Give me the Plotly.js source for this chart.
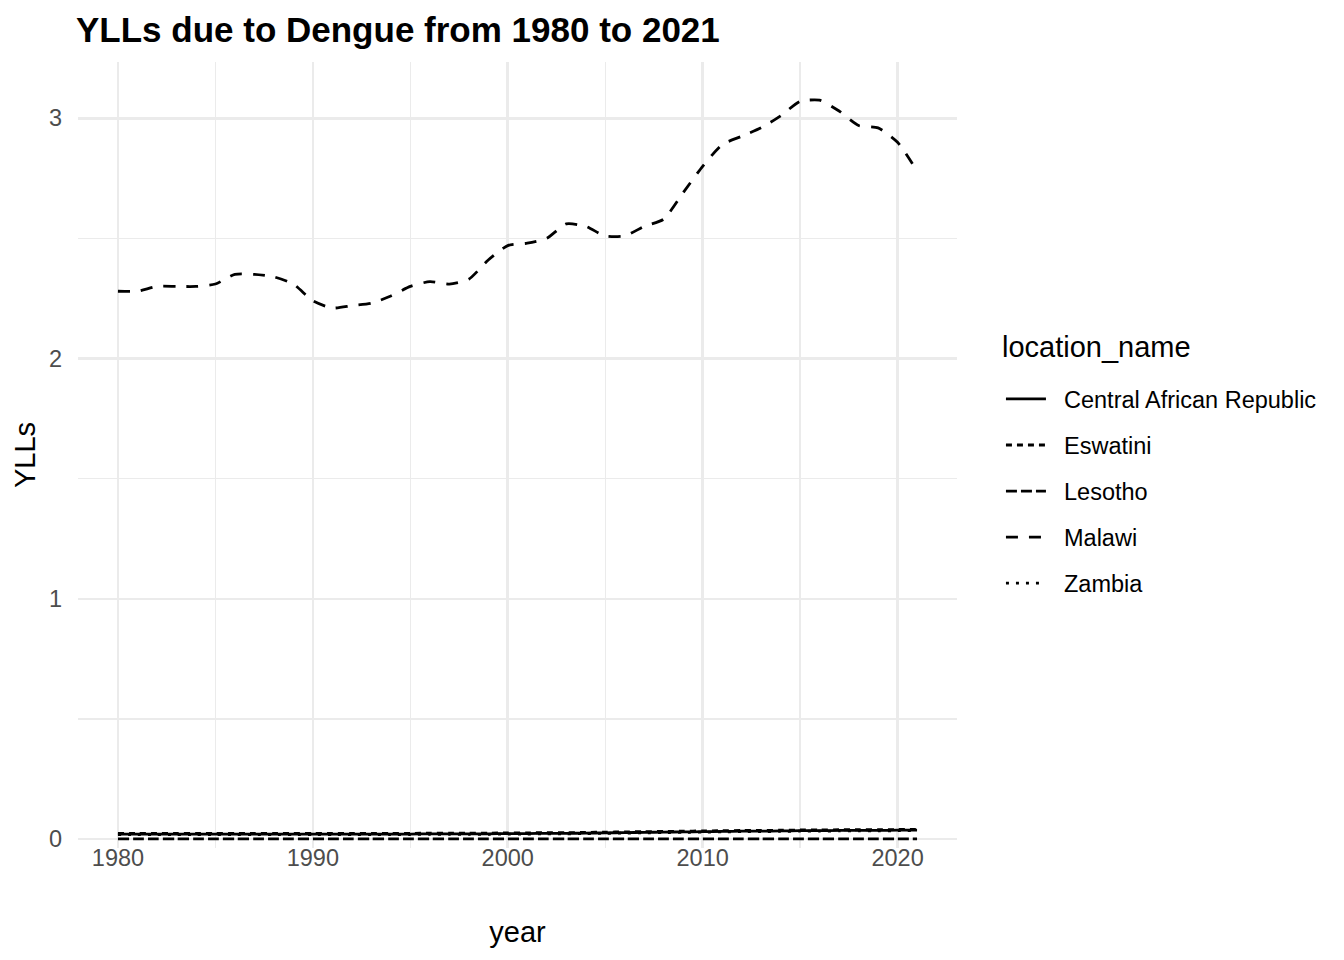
<!DOCTYPE html>
<html>
<head>
<meta charset="utf-8">
<script src="https://cdn.plot.ly/plotly-3.0.1.min.js"></script>
<style>html,body{margin:0;padding:0;background:#fff;}#chart{width:1344px;height:960px;}</style>
</head>
<body>
<div id="chart"></div>
<script>
const years = [1980,1981,1982,1983,1984,1985,1986,1987,1988,1989,1990,1991,1992,1993,1994,1995,1996,1997,1998,1999,2000,2001,2002,2003,2004,2005,2006,2007,2008,2009,2010,2011,2012,2013,2014,2015,2016,2017,2018,2019,2020,2021];

const centralAfricanRepublic = [0.021,0.021,0.021,0.021,0.021,0.021,0.021,0.021,0.021,0.021,0.021,0.021,0.021,0.021,0.021,0.021,0.022,0.022,0.022,0.022,0.023,0.023,0.024,0.024,0.025,0.026,0.027,0.028,0.029,0.030,0.031,0.032,0.033,0.033,0.034,0.035,0.035,0.036,0.036,0.036,0.037,0.037];
const eswatini = [0.024,0.024,0.024,0.024,0.024,0.024,0.024,0.024,0.024,0.024,0.024,0.024,0.024,0.024,0.024,0.024,0.025,0.025,0.025,0.025,0.026,0.026,0.027,0.027,0.028,0.029,0.030,0.031,0.032,0.033,0.034,0.035,0.036,0.036,0.037,0.038,0.038,0.039,0.039,0.039,0.040,0.040];
const lesotho = [0.001,0.001,0.001,0.001,0.001,0.001,0.001,0.001,0.001,0.001,0.001,0.001,0.001,0.001,0.001,0.001,0.001,0.001,0.001,0.001,0.001,0.001,0.001,0.001,0.001,0.001,0.001,0.001,0.001,0.001,0.001,0.001,0.001,0.001,0.001,0.001,0.001,0.001,0.001,0.001,0.001,0.001];
const malawi = [2.28,2.28,2.30,2.30,2.30,2.31,2.35,2.35,2.34,2.31,2.24,2.21,2.22,2.23,2.26,2.30,2.32,2.31,2.33,2.41,2.47,2.48,2.50,2.56,2.55,2.51,2.51,2.55,2.58,2.69,2.80,2.89,2.925,2.96,3.01,3.07,3.075,3.03,2.97,2.96,2.90,2.78];
const zambia = [0.019,0.019,0.019,0.019,0.019,0.019,0.019,0.019,0.019,0.019,0.019,0.019,0.019,0.019,0.019,0.019,0.020,0.020,0.020,0.020,0.021,0.021,0.022,0.022,0.023,0.024,0.025,0.026,0.027,0.028,0.029,0.030,0.031,0.031,0.032,0.033,0.033,0.034,0.034,0.034,0.035,0.035];

const seriesNames = ["Central African Republic","Eswatini","Lesotho","Malawi","Zambia"];
const seriesValues = [centralAfricanRepublic, eswatini, lesotho, malawi, zambia];
const dashes = ["solid","6px,5px","11px,4px","12px,11px","3px,7px"];

const xTickVals = [1980,1990,2000,2010,2020];
const yTickVals = [0,1,2,3];
const legendTitle = 'location_name';

const traces = seriesNames.map((n,i)=>({
  x: years, y: seriesValues[i], type:'scatter', mode:'lines',
  name: '\u00a0\u00a0' + n,
  legendgroup: n,
  line:{color:'#000000', width:2.8, dash:dashes[i], shape:'spline', smoothing:0.6}
}));

const gridMajor = '#EBEBEB';
const layout = {
  width:1344, height:960,
  paper_bgcolor:'#ffffff', plot_bgcolor:'#ffffff',
  margin:{l:78, r:387, t:62, b:112},
  font:{family:'Liberation Sans, Arial, sans-serif', color:'#000000'},
  title:{text:'<b>YLLs due to Dengue from 1980 to 2021</b>', x:0, xref:'paper', xanchor:'left', y:1, yref:'container', yanchor:'top', pad:{t:17, l:-2}, font:{size:35, color:'#000000'}},
  xaxis:{
    range:[1977.95, 2023.05], tickvals:xTickVals, ticktext:xTickVals.map(String),
    showgrid:true, gridcolor:gridMajor, gridwidth:2.6, zeroline:false, showline:false, ticks:'',
    tickfont:{size:23.5, color:'#4D4D4D'}, ticklabelstandoff:-7,
    minor:{tickvals:[1985,1995,2005,2015], showgrid:true, gridcolor:gridMajor, gridwidth:1.3},
    title:{text:'year', font:{size:29, color:'#000000'}, standoff:52}
  },
  yaxis:{
    range:[-0.037, 3.234], tickvals:yTickVals, ticktext:yTickVals.map(String),
    showgrid:true, gridcolor:gridMajor, gridwidth:2.6, zeroline:false, showline:false, ticks:'',
    tickfont:{size:23.5, color:'#4D4D4D'}, ticklabelstandoff:15,
    minor:{tickvals:[0.5,1.5,2.5], showgrid:true, gridcolor:gridMajor, gridwidth:1.3},
    title:{text:'YLLs', font:{size:29, color:'#000000'}, standoff:4}
  },
  showlegend:true,
  legend:{
    x:1.050, xanchor:'left', y:0.599, yanchor:'top',
    font:{size:23.5, color:'#000000'},
    traceorder:'grouped', tracegroupgap:12.5, itemwidth:40,
    bgcolor:'rgba(0,0,0,0)'
  },
  annotations:[{
    text:legendTitle, xref:'paper', yref:'paper', x:1.049, y:0.6374,
    xanchor:'left', yanchor:'middle', showarrow:false,
    font:{size:29, color:'#000000'}
  }]
};

Plotly.newPlot('chart', traces, layout, {displayModeBar:false, staticPlot:true});
</script>
</body>
</html>
